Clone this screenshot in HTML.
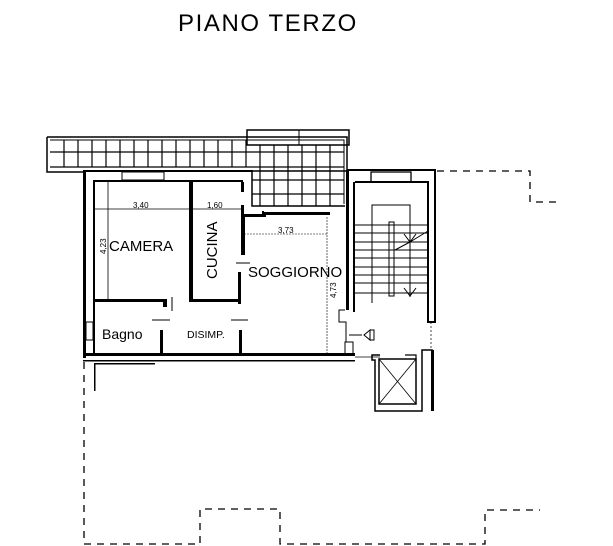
<!DOCTYPE html>
<html><head><meta charset="utf-8"><style>
html,body{margin:0;padding:0;background:#fff;}
svg{display:block;}
text{font-family:"Liberation Sans",sans-serif;fill:#000;}
</style></head><body>
<svg width="613" height="546" viewBox="0 0 613 546" xmlns="http://www.w3.org/2000/svg">
<rect width="613" height="546" fill="#fff"/>
<text x="178" y="31" font-size="24" letter-spacing="1.6">PIANO TERZO</text>

<g fill="none" stroke="#000">
<!-- terrace -->
<path d="M47,137 H347 V171 H252 V206 H345" stroke-width="1.5"/>
<path d="M47,137 V172 H84" stroke-width="1.5"/>
<path d="M50,140 H344 V204" stroke-width="1"/>
<rect x="247" y="130" width="102" height="15" stroke-width="1.5"/>
<line x1="299" y1="130" x2="299" y2="145"/>
<g stroke-width="1.2" stroke="#000">
<path d="M50,152 H344 M50,167 H252 M252,167 H344 M252,180 H344 M252,194 H344"/>
<path d="M64,140 V167 M78,140 V167 M92,140 V167 M106,140 V167 M120,140 V167 M134,140 V167 M148,140 V167 M162,140 V167 M176,140 V167 M190,140 V167 M204,140 V167 M218,140 V167 M232,140 V167 M246,140 V167"/>
<path d="M260,145 V206 M274,145 V206 M288,145 V206 M302,145 V206 M316,145 V206 M330,145 V206"/>
</g>
</g>

<!-- building walls -->
<g fill="#000">
<rect x="83" y="170" width="3" height="188"/>
<rect x="83" y="170" width="170" height="2"/>
<rect x="93" y="180" width="2" height="176"/>
<rect x="93" y="180" width="150" height="2"/>
<rect x="122" y="172" width="42" height="8" fill="none" stroke="#000"/>
<rect x="189" y="182" width="4" height="120"/>
<rect x="241" y="182" width="3" height="10"/>
<rect x="241" y="205" width="3" height="48"/>
<rect x="238" y="272" width="3" height="32"/>
<rect x="241" y="215" width="4" height="40"/>
<rect x="193" y="299" width="47" height="3"/>
<rect x="244" y="214" width="22" height="3"/>
<rect x="262" y="211" width="2" height="6"/>
<rect x="264" y="212" width="66" height="3"/>
<rect x="95" y="299" width="72" height="3"/>
<rect x="163" y="299" width="4" height="8"/>
<rect x="160" y="330" width="3" height="24"/>
<rect x="239" y="330" width="3" height="24"/>
<rect x="86" y="322" width="7" height="18" fill="none" stroke="#000"/>
<rect x="83" y="353" width="272" height="3"/>
<rect x="83" y="360" width="272" height="1.5"/>
<rect x="95" y="363" width="60" height="1.5"/>
<rect x="94" y="363" width="1.5" height="28"/>
<rect x="346" y="170" width="3" height="140"/>
<rect x="353" y="182" width="2" height="130"/>
<rect x="345" y="342" width="8" height="12" fill="none" stroke="#000"/>
</g>
<g stroke="#000" fill="none" stroke-width="1">
<line x1="172" y1="297" x2="172" y2="311"/>
<line x1="152" y1="320" x2="170" y2="320"/>
<line x1="231" y1="320" x2="248" y2="320"/>
<line x1="236" y1="263" x2="250" y2="263"/>
<path d="M345,310 H339 V322 H346 V342"/>
<line x1="95" y1="209" x2="244" y2="209" stroke-width="0.8"/>
<line x1="108" y1="182" x2="108" y2="302" stroke-width="0.8"/>
<line x1="244" y1="234" x2="328" y2="234" stroke-width="0.6" stroke-dasharray="2,1"/>
<line x1="327" y1="217" x2="327" y2="353" stroke-width="0.6" stroke-dasharray="2,1"/>
</g>
<text x="133" y="208" font-size="8">3,40</text>
<text x="207" y="208" font-size="8">1,60</text>
<text x="278" y="233" font-size="8">3,73</text>
<text x="106" y="254" font-size="8" transform="rotate(-90 106 254)">4,23</text>
<text x="336" y="298" font-size="8" transform="rotate(-90 336 298)">4,73</text>
<text x="109" y="251" font-size="15">CAMERA</text>
<text x="217" y="279" font-size="15" transform="rotate(-90 217 279)">CUCINA</text>
<text x="248" y="277" font-size="15">SOGGIORNO</text>
<text x="102" y="339" font-size="14">Bagno</text>
<text x="187" y="338" font-size="10.5">DISIMP.</text>

<!-- stair -->
<g fill="none" stroke="#000">
<path d="M347,170 H435 V322 H428 V182 H355" stroke-width="2"/>
<rect x="371" y="172" width="40" height="10" stroke-width="1.3"/>
<g stroke-width="1">
<path d="M355,225 H428 M355,233 H428 M355,242 H428 M355,250 H428 M355,258 H428 M355,267 H428 M355,275 H428 M355,283 H428 M355,293 H428"/>
<path d="M372,303 V205 H410 V297"/>
<rect x="389" y="222" width="5" height="74"/>
<path d="M404,234 L410,242 L416,234 M410,242 L428,231 M410,242 L395,250 M404,288 L410,296 L416,288"/>
<line x1="349" y1="335" x2="362" y2="335"/>
<path d="M370,330 L364,335 L370,340 Z M370,330 H374 V340 H370"/>
<line x1="431" y1="322" x2="431" y2="350" stroke-dasharray="2,2" stroke-width="0.7"/>
<line x1="355" y1="357" x2="380" y2="357" stroke-width="0.7"/>
</g>
<path d="M380,355 H372 V360 H375 V411 H422 V350 H432 V411" stroke-width="1.5"/>
<rect x="431" y="350" width="3" height="61" fill="#000" stroke="none"/>
<rect x="379" y="359" width="37" height="45" stroke-width="1.5"/>
<path d="M379,359 L416,404 M416,359 L379,404" stroke-width="0.8"/>
<path d="M405,355 H416 V359" stroke-width="1.2"/>
</g>

<g fill="none" stroke="#000" stroke-width="1.3" stroke-dasharray="7,6">
<path d="M437,171 H530 V202 H557"/>
<path d="M84,362 V544 H200 V509 H280 V544 H485 V510 H540"/>
</g>
</svg>
</body></html>
